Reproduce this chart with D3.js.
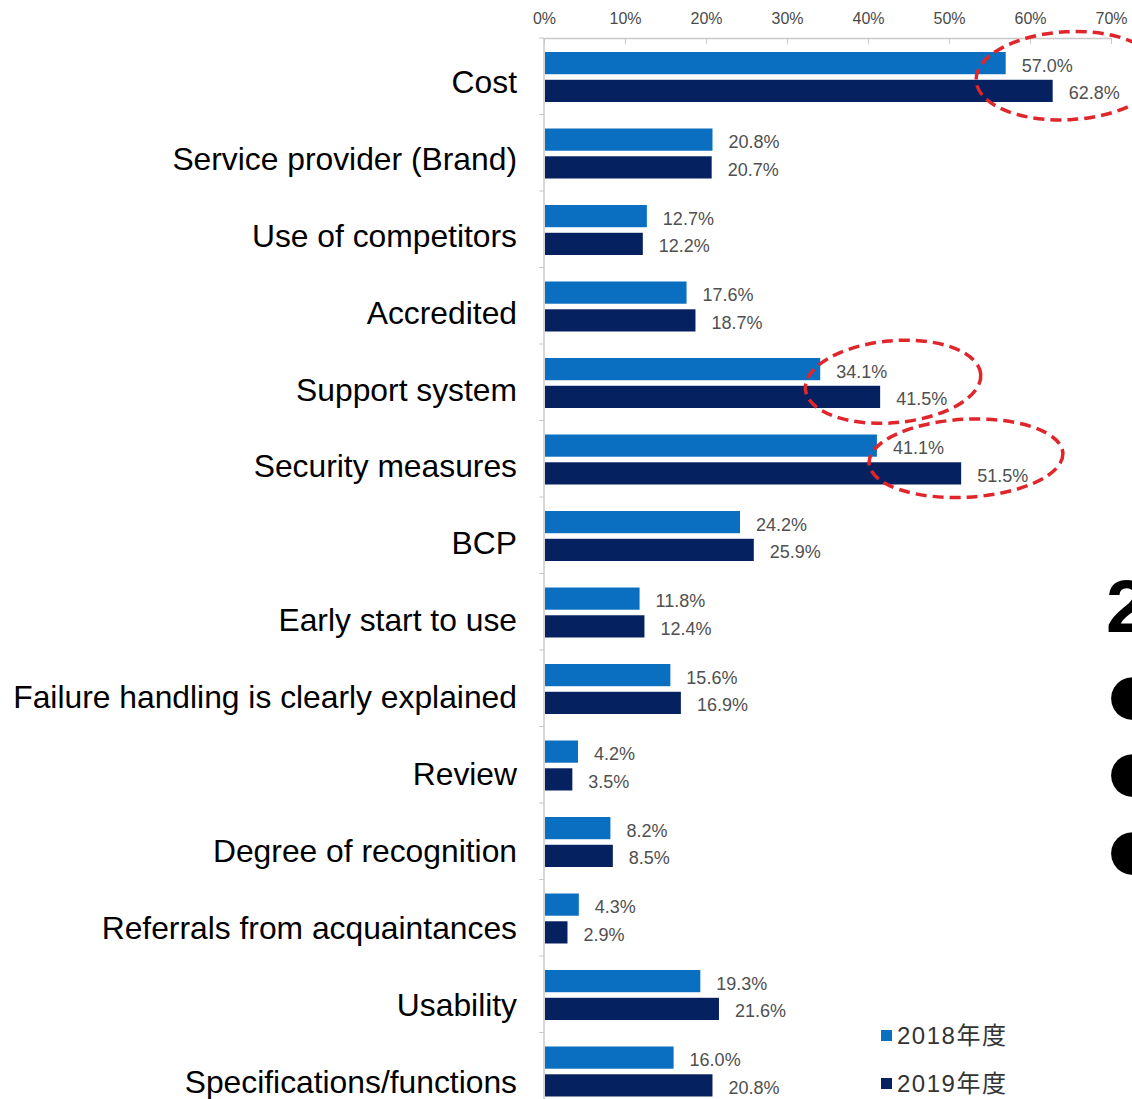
<!DOCTYPE html>
<html><head><meta charset="utf-8">
<script src="https://cdn.jsdelivr.net/npm/d3@7"></script>
<style>
html,body{margin:0;padding:0;background:#fff;overflow:hidden;}
svg{display:block;}
</style></head>
<body>
<svg id="chart" width="1132" height="1099"></svg>
<script>
const categories = ["Cost","Service provider (Brand)","Use of competitors","Accredited","Support system","Security measures","BCP","Early start to use","Failure handling is clearly explained","Review","Degree of recognition","Referrals from acquaintances","Usability","Specifications/functions"];
const series = ["2018年度","2019年度"];
const values2018 = [57.0,20.8,12.7,17.6,34.1,41.1,24.2,11.8,15.6,4.2,8.2,4.3,19.3,16.0];
const values2019 = [62.8,20.7,12.2,18.7,41.5,51.5,25.9,12.4,16.9,3.5,8.5,2.9,21.6,20.8];
const xTicks = [0,10,20,30,40,50,60,70];
const colors = ["#0b6fc1","#06215f"];

const svg = d3.select("#chart");
const x = d3.scaleLinear().domain([0,70]).range([544,1111]);
const y = d3.scaleBand().domain(categories).range([38,38+76.5*14]);
const yLabel = d3.scaleBand().domain(categories).range([38,38+76.9*14]);
const ys = d3.scaleBand().domain(series).range([14,64]).paddingInner(0.2);

// x axis on top
const xAxis = d3.axisTop(x).tickValues(xTicks).tickFormat(d=>d+"%").tickSizeInner(-6).tickSizeOuter(0).tickPadding(14);
const gx = svg.append("g").attr("transform","translate(0,38)").call(xAxis);
gx.select(".domain").attr("stroke","#c8c8c8").attr("stroke-width",1.5);
gx.selectAll(".tick line").attr("stroke","#c8c8c8");
gx.selectAll(".tick text").attr("fill","#4a4a4a").style("font-family","Liberation Sans, Arial, sans-serif").style("font-size","16px");

// y axis line and boundary ticks
svg.append("line").attr("x1",x(0)).attr("x2",x(0)).attr("y1",y.range()[0]).attr("y2",y.range()[1]).attr("stroke","#c8c8c8").attr("stroke-width",1.5);
svg.append("g").selectAll("line").data(categories).join("line")
  .attr("x1",x(0)-5).attr("x2",x(0)).attr("y1",d=>y(d)).attr("y2",d=>y(d)).attr("stroke","#c8c8c8");

// category labels
svg.append("g").selectAll("text").data(categories).join("text")
  .attr("x",517).attr("y",d=>yLabel(d)+yLabel.bandwidth()/2+16.5)
  .attr("text-anchor","end").attr("fill","#000")
  .style("font-family","Liberation Sans, Arial, sans-serif").style("font-size","31.8px")
  .text(d=>d);

// bars
const rows = categories.map((c,i)=>({c, vals:[values2018[i],values2019[i]]}));
const grp = svg.append("g").selectAll("g").data(rows).join("g").attr("transform",d=>`translate(0,${y(d.c)})`);
grp.selectAll("rect").data(d=>d.vals.map((v,k)=>({v,s:series[k],k}))).join("rect")
  .attr("x",x(0)+1).attr("y",d=>ys(d.s)).attr("height",ys.bandwidth())
  .attr("width",d=>x(d.v)-x(0)-1).attr("fill",d=>colors[d.k]);
grp.selectAll("text").data(d=>d.vals.map((v,k)=>({v,s:series[k],k}))).join("text")
  .attr("x",d=>x(d.v)+16).attr("y",d=>ys(d.s)+ys.bandwidth()/2+8.5)
  .attr("fill","#505050").style("font-family","Liberation Sans, Arial, sans-serif").style("font-size","18px")
  .text(d=>d.v.toFixed(1)+"%");

// red dashed ellipses around highlighted groups
const ell = [
  {c:"Cost", cx:x(64.7), rx:92, ry:44, rot:-3},
  {c:"Support system", cx:x(43.1), rx:88, ry:41, rot:-5},
  {c:"Security measures", cx:x(52.1), rx:97, ry:39, rot:-3}
];
svg.append("g").selectAll("ellipse").data(ell).join("ellipse")
  .attr("cx",d=>d.cx).attr("cy",d=>y(d.c)+y.bandwidth()/2-0.5)
  .attr("rx",d=>d.rx).attr("ry",d=>d.ry)
  .attr("transform",d=>`rotate(${d.rot},${d.cx},${y(d.c)+y.bandwidth()/2})`)
  .attr("fill","none").attr("stroke","#e0262b").attr("stroke-width",3.5).attr("stroke-dasharray","11,6");

// legend
const lg = svg.append("g").selectAll("g").data(series).join("g")
  .attr("transform",(d,i)=>`translate(881,${1036+i*48})`);
lg.append("rect").attr("x",0).attr("y",-6).attr("width",11).attr("height",11).attr("fill",(d,i)=>colors[i]);
lg.append("text").attr("x",16).attr("y",8).attr("fill","#333")
  .style("font-family","Liberation Sans, 'Noto Sans CJK JP', sans-serif").style("font-size","24px").style("letter-spacing","1.5px")
  .text(d=>d);

// cut-off slide text at the right edge
svg.append("text").attr("x",1106).attr("y",632).attr("fill","#000")
  .style("font-family","Liberation Sans, Arial, sans-serif").style("font-weight","bold").style("font-size","75px").text("2");
svg.append("g").selectAll("text").data(["●","●","●"]).join("text")
  .attr("x",1108).attr("y",(d,i)=>[697,774,852][i]+16).attr("fill","#000")
  .style("font-family","DejaVu Sans, sans-serif").style("font-size","56px").text(d=>d);
</script>
</body></html>
